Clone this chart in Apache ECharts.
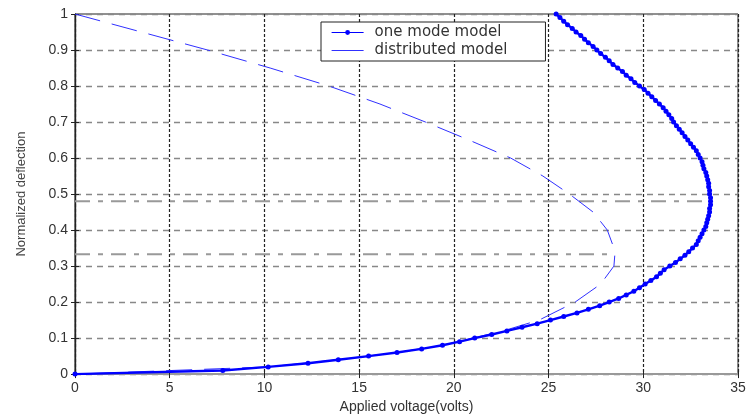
<!DOCTYPE html>
<html>
<head>
<meta charset="utf-8">
<script src="https://cdn.jsdelivr.net/npm/echarts@6/dist/echarts.min.js"></script>
<style>html,body{margin:0;padding:0;background:#fff;}#c{width:749px;height:419px;}</style>
</head>
<body>
<div id="c"></div>
<script>
// ---- data ----
const xTicks = [0, 5, 10, 15, 20, 25, 30, 35];
const yTicks = [0, 0.1, 0.2, 0.3, 0.4, 0.5, 0.6, 0.7, 0.8, 0.9, 1];

// one mode model: deflection steps and voltage
const oneModeDeflection = [
  0.00,0.01,0.02,0.03,0.04,0.05,0.06,0.07,0.08,0.09,
  0.10,0.11,0.12,0.13,0.14,0.15,0.16,0.17,0.18,0.19,
  0.20,0.21,0.22,0.23,0.24,0.25,0.26,0.27,0.28,0.29,
  0.30,0.31,0.32,0.33,0.34,0.35,0.36,0.37,0.38,0.39,
  0.40,0.41,0.42,0.43,0.44,0.45,0.46,0.47,0.48,0.49,
  0.50,0.51,0.52,0.53,0.54,0.55,0.56,0.57,0.58,0.59,
  0.60,0.61,0.62,0.63,0.64,0.65,0.66,0.67,0.68,0.69,
  0.70,0.71,0.72,0.73,0.74,0.75,0.76,0.77,0.78,0.79,
  0.80,0.81,0.82,0.83,0.84,0.85,0.86,0.87,0.88,0.89,
  0.90,0.91,0.92,0.93,0.94,0.95,0.96,0.97,0.98,0.99,1.00
];
const oneModeVoltage = [
  0.0,7.8,10.2,12.3,13.9,15.5,17.0,18.3,19.4,20.3,
  21.1,22.0,22.8,23.6,24.4,25.1,25.8,26.5,27.1,27.7,
  28.2,28.7,29.1,29.5,29.8,30.1,30.4,30.7,30.9,31.1,
  31.4,31.7,31.95,32.2,32.4,32.6,32.8,32.9,33.0,33.1,
  33.2,33.3,33.35,33.4,33.45,33.5,33.5,33.55,33.55,33.55,
  33.5,33.5,33.45,33.45,33.4,33.35,33.3,33.2,33.15,33.1,
  33.0,32.9,32.8,32.65,32.5,32.35,32.2,32.05,31.9,31.75,
  31.6,31.5,31.35,31.2,31.05,30.85,30.65,30.45,30.25,30.05,
  29.8,29.55,29.35,29.1,28.9,28.65,28.4,28.2,28.0,27.75,
  27.55,27.35,27.1,26.9,26.7,26.45,26.25,26.0,25.8,25.6,25.4
];

// distributed model
const distDeflection = [1.00,0.95,0.90,0.85,0.80,0.75,0.70,0.65,0.60,0.55,0.50,0.45,0.40,0.35,0.333,0.30,0.25,0.20,0.15,0.12,0.10,0.08,0.06,0.04,0.02,0.00];
const distVoltage    = [0.0, 3.5, 7.0, 10.3,13.4,16.1,18.5,20.8,23.0,24.7,26.1,27.35,28.1,28.45,28.5,28.45,27.75,26.4,24.5,22.6,21.0,19.4,17.0,13.9,10.2,0.0];

// pull-in markers [voltage, deflection]
const pullInOneMode = [33.55, 0.48];
const pullInDistributed = [28.5, 0.333];

const seriesNames = ['one mode model', 'distributed model'];
const xTitle = 'Applied voltage(volts)';
const yTitle = 'Normalized deflection';

// ---- chart ----
const chart = echarts.init(document.getElementById('c'), null, {renderer: 'canvas'});
const pairs = (xs, ys) => xs.map((x, i) => [x, ys[i]]);
const fontFam = 'Liberation Sans, Arial, sans-serif';

const option = {
  animation: false,
  backgroundColor: '#fff',
  grid: {left: 75, right: 11, top: 14, bottom: 41, show: true, borderColor: '#222', borderWidth: 1},
  legend: {
    data: [
      {name: seriesNames[0], lineStyle: {width: 1.2}},
      {name: seriesNames[1], lineStyle: {type: 'solid', width: 1.2}, itemStyle: {opacity: 0}}
    ],
    orient: 'vertical',
    left: 321, top: 22,
    itemWidth: 32, itemHeight: 6, itemGap: 3,
    padding: [3, 38, 3, 10],
    borderColor: '#222', borderWidth: 1, backgroundColor: '#fff',
    textStyle: {fontFamily: 'DejaVu Sans, sans-serif', fontSize: 15, color: '#333', padding: [0, 0, 0, 6]}
  },
  xAxis: [{
    type: 'value', min: 0, max: 35, interval: 5,
    name: xTitle, nameLocation: 'middle', nameGap: 25,
    nameTextStyle: {fontFamily: fontFam, fontSize: 14, color: '#333'},
    axisLine: {show: true, lineStyle: {color: '#222', width: 1.2}},
    axisTick: {show: true, inside: true, length: 4, lineStyle: {color: '#222'}},
    axisLabel: {fontFamily: fontFam, fontSize: 14, color: '#333', margin: 7,
      formatter: v => xTicks.includes(v) ? String(v) : ''},
    splitLine: {show: true, lineStyle: {color: '#222', width: 1.2, type: [3, 2]}}
  }, {
    type: 'value', min: 0, max: 35, interval: 5, position: 'top',
    axisLine: {show: true, lineStyle: {color: '#999', width: 2}},
    axisTick: {show: true, inside: true, length: 4, lineStyle: {color: '#222'}},
    axisLabel: {show: false}, splitLine: {show: false}
  }],
  yAxis: [{
    type: 'value', min: 0, max: 1, interval: 0.1,
    name: yTitle, nameLocation: 'middle', nameGap: 47, nameRotate: 90,
    nameTextStyle: {fontFamily: fontFam, fontSize: 13, color: '#444'},
    axisLine: {show: true, lineStyle: {color: '#222', width: 1.2}},
    axisTick: {show: true, inside: true, length: 4, lineStyle: {color: '#222'}},
    axisLabel: {fontFamily: fontFam, fontSize: 14, color: '#333', margin: 7,
      formatter: v => {
        const t = yTicks.find(k => Math.abs(k - v) < 1e-9);
        if (t === undefined) return '';
        return (t === 0 || t === 1) ? String(t) : t.toFixed(1);
      }},
    splitLine: {show: true, lineStyle: {color: '#888', width: 1.3, type: [6, 5]}}
  }, {
    type: 'value', min: 0, max: 1, interval: 0.1, position: 'right',
    axisLine: {show: true, lineStyle: {color: '#222', width: 1.2}},
    axisTick: {show: true, inside: true, length: 4, lineStyle: {color: '#222'}},
    axisLabel: {show: false}, splitLine: {show: false}
  }],
  series: [
    {
      name: 'pullin1', type: 'line', silent: true, symbol: 'none', z: 1,
      data: [[0, pullInOneMode[1]], pullInOneMode],
      lineStyle: {color: '#999', width: 2, type: [15, 8, 5, 8]}
    },
    {
      name: 'pullin2', type: 'line', silent: true, symbol: 'none', z: 1,
      data: [[0, pullInDistributed[1]], pullInDistributed],
      lineStyle: {color: '#999', width: 2, type: [15, 8, 5, 8]}
    },
    {
      name: seriesNames[0], type: 'line', z: 3,
      data: pairs(oneModeVoltage, oneModeDeflection),
      symbol: 'circle', symbolSize: 5,
      itemStyle: {color: '#0000ff'},
      lineStyle: {color: '#0000ff', width: 2.4}
    },
    {
      name: seriesNames[1], type: 'line', z: 2,
      data: pairs(distVoltage, distDeflection),
      symbol: 'none',
      itemStyle: {color: '#3030ff'},
      lineStyle: {color: '#3030ff', width: 1, type: [26, 12]}
    }
  ]
};
chart.setOption(option);
</script>
</body>
</html>
